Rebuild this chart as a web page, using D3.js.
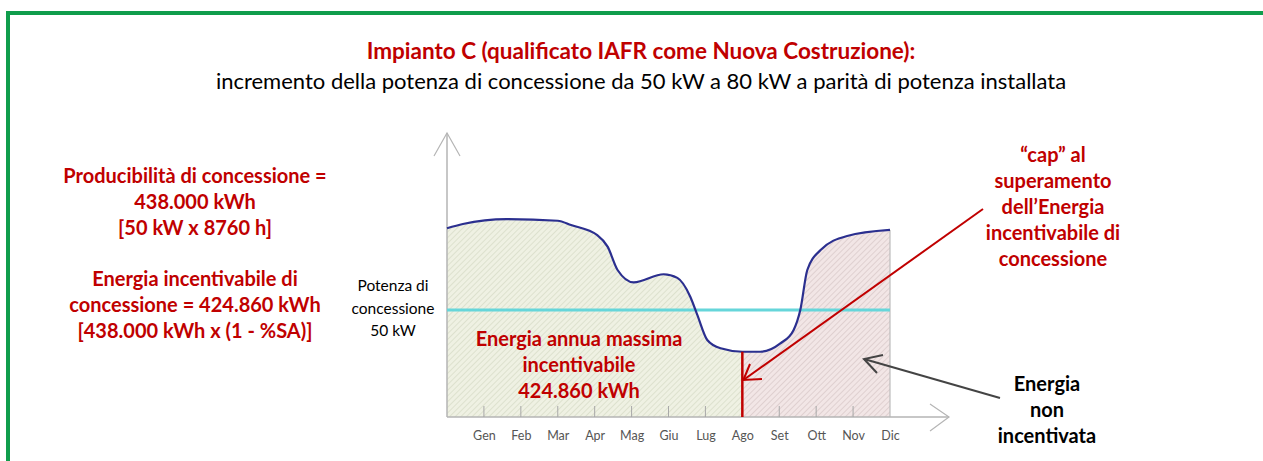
<!DOCTYPE html>
<html>
<head>
<meta charset="utf-8">
<script src="https://cdn.jsdelivr.net/npm/d3@7.9.0/dist/d3.min.js"></script>
<style>
  html, body { margin: 0; padding: 0; background: #fff; }
  svg { display: block; }
  text { font-family: Lato, "Open Sans", sans-serif; }
</style>
</head>
<body>
<svg id="chart" width="1263" height="461"></svg>
<script>
// months shown under the x axis (label sits at the end of each month)
const MONTHS = ['Gen', 'Feb', 'Mar', 'Apr', 'Mag', 'Giu', 'Lug', 'Ago', 'Set', 'Ott', 'Nov', 'Dic'];

// producibility curve: month position (0..12) and kW
const curveMonth = [0, 0.43, 1.62, 3.0, 3.36, 4.07, 4.35, 4.62, 5.06, 5.87, 6.24, 6.59, 6.78, 7.05, 7.41, 8.0, 8.49, 9.03, 9.39, 9.57, 9.76, 10.12, 10.84, 12];
const curveKw = [88.2, 90.2, 92.5, 91.7, 89.7, 85.0, 79.6, 68.7, 62.9, 66.7, 65.0, 56.2, 47.7, 36.0, 32.1, 30.5, 30.5, 34.4, 40.7, 50.0, 68.7, 78.0, 84.6, 87.4];

const CONCESSION_KW = 50;
const CAP_MONTH = 8; // energy cap reached at Ago

const titleLine = 'Impianto C (qualificato IAFR come Nuova Costruzione):';
const subtitleLine = 'incremento della potenza di concessione da 50 kW a 80 kW a parità di potenza installata';
const leftNotes = [
  'Producibilità di concessione =', '438.000 kWh', '[50 kW x 8760 h]',
  'Energia incentivabile di', 'concessione = 424.860 kWh', '[438.000 kWh  x (1 - %SA)]'
];
const concessionLabel = ['Potenza di', 'concessione', '50 kW'];
const areaLabel = ['Energia annua massima', 'incentivabile', '424.860 kWh'];
const capLabel = ['“cap” al', 'superamento', 'dell’Energia', 'incentivabile di', 'concessione'];
const notIncLabel = ['Energia', 'non', 'incentivata'];

const RED = '#c00000';

const svg = d3.select('#chart');
const x = d3.scaleLinear().domain([0, 12]).range([447, 890]);
const y = d3.scaleLinear().domain([0, 50]).range([417, 310]);

const points = curveMonth.map((m, i) => ({ m, kw: curveKw[i] }));

// green frame
svg.append('rect')
  .attr('x', 8).attr('y', 13)
  .attr('width', 1300).attr('height', 500)
  .attr('fill', 'none')
  .attr('stroke', '#0f9d4c')
  .attr('stroke-width', 4);

// hatch patterns
const defs = svg.append('defs');
function hatch(id, bg, line) {
  const p = defs.append('pattern')
    .attr('id', id)
    .attr('patternUnits', 'userSpaceOnUse')
    .attr('width', 4).attr('height', 4)
    .attr('patternTransform', 'rotate(45)');
  p.append('rect').attr('width', 4).attr('height', 4).attr('fill', bg);
  p.append('line').attr('x1', 0).attr('y1', 0).attr('x2', 0).attr('y2', 4)
    .attr('stroke', line).attr('stroke-width', 1.2);
}
hatch('hatch-green', '#eff1e3', '#d2d7c0');
hatch('hatch-pink', '#f2e6e6', '#d3c2c2');

const area = d3.area()
  .x((d) => x(d.m))
  .y0(y(0))
  .y1((d) => y(d.kw))
  .curve(d3.curveMonotoneX);

const clipLeft = defs.append('clipPath').attr('id', 'clip-left');
clipLeft.append('rect').attr('x', x(0)).attr('y', 0).attr('width', x(CAP_MONTH) - x(0)).attr('height', 461);
const clipRight = defs.append('clipPath').attr('id', 'clip-right');
clipRight.append('rect').attr('x', x(CAP_MONTH)).attr('y', 0).attr('width', x(12) - x(CAP_MONTH)).attr('height', 461);

svg.append('path').datum(points)
  .attr('d', area).attr('fill', 'url(#hatch-green)')
  .attr('clip-path', 'url(#clip-left)');
svg.append('path').datum(points)
  .attr('d', area).attr('fill', 'url(#hatch-pink)')
  .attr('clip-path', 'url(#clip-right)');

// right border of the area
svg.append('line')
  .attr('x1', x(12)).attr('x2', x(12))
  .attr('y1', y(curveKw[curveKw.length - 1])).attr('y2', y(0))
  .attr('stroke', '#bdbdbd').attr('stroke-width', 1.2);

// axes
const axisColor = '#b5b5b5';
svg.append('line').attr('x1', x(0)).attr('x2', x(0)).attr('y1', y(0)).attr('y2', 133)
  .attr('stroke', axisColor).attr('stroke-width', 1.5);
svg.append('path').attr('d', `M434,156L${x(0)},133L460,156`)
  .attr('fill', 'none').attr('stroke', axisColor).attr('stroke-width', 1.2);
svg.append('line').attr('x1', x(0)).attr('x2', 949).attr('y1', y(0)).attr('y2', y(0))
  .attr('stroke', axisColor).attr('stroke-width', 1.5);
svg.append('path').attr('d', `M930,404L949,${y(0)}L930,431`)
  .attr('fill', 'none').attr('stroke', axisColor).attr('stroke-width', 1.2);

const xAxis = d3.axisBottom(x)
  .tickValues(d3.range(1, 13))
  .tickSize(0)
  .tickPadding(14)
  .tickFormat((d) => MONTHS[d - 1]);
const gx = svg.append('g').attr('transform', `translate(0,${y(0)})`).call(xAxis);
gx.select('.domain').remove();
gx.selectAll('text')
  .attr('font-family', 'Arial, "Liberation Sans", sans-serif')
  .attr('font-size', 12.5)
  .attr('fill', '#555');
svg.append('g').selectAll('line')
  .data(d3.range(1, 12))
  .join('line')
  .attr('x1', (d) => x(d)).attr('x2', (d) => x(d))
  .attr('y1', y(0)).attr('y2', y(0) - 11)
  .attr('stroke', '#a8a8a8').attr('stroke-width', 1);

// concession line
svg.append('line')
  .attr('x1', x(0)).attr('x2', x(12))
  .attr('y1', y(CONCESSION_KW)).attr('y2', y(CONCESSION_KW))
  .attr('stroke', '#66d6da').attr('stroke-width', 3);

// producibility curve
const line = d3.line()
  .x((d) => x(d.m))
  .y((d) => y(d.kw))
  .curve(d3.curveMonotoneX);
svg.append('path').datum(points)
  .attr('d', line)
  .attr('fill', 'none')
  .attr('stroke', '#2b2f8f')
  .attr('stroke-width', 2.2);

// cap line at Ago
svg.append('line')
  .attr('x1', x(CAP_MONTH)).attr('x2', x(CAP_MONTH))
  .attr('y1', y(30.5)).attr('y2', y(0))
  .attr('stroke', RED).attr('stroke-width', 2.5);

// red arrow from the cap note
const capTip = [x(CAP_MONTH) + 1, 380];
svg.append('line')
  .attr('x1', 983).attr('y1', 209)
  .attr('x2', capTip[0]).attr('y2', capTip[1])
  .attr('stroke', RED).attr('stroke-width', 2);
svg.append('path')
  .attr('d', `M750,364L${capTip[0]},${capTip[1]}L762,379`)
  .attr('fill', 'none').attr('stroke', RED).attr('stroke-width', 2);

// dark arrow from "Energia non incentivata"
svg.append('line')
  .attr('x1', 1000).attr('y1', 398).attr('x2', 864).attr('y2', 359)
  .attr('stroke', '#444').attr('stroke-width', 2);
svg.append('path')
  .attr('d', 'M883,355L864,359L877,373')
  .attr('fill', 'none').attr('stroke', '#444').attr('stroke-width', 2);

// text blocks
function block(lines, cx, firstY, step, opts) {
  svg.append('g').selectAll('text')
    .data(lines)
    .join('text')
    .attr('x', cx)
    .attr('y', (d, i) => firstY + i * step)
    .attr('text-anchor', 'middle')
    .attr('dominant-baseline', 'central')
    .attr('font-size', opts.size)
    .attr('font-weight', opts.weight || 'normal')
    .attr('fill', opts.color || '#000')
    .text((d) => d);
}

block([titleLine], 641, 50, 0, { size: 22.5, weight: 'bold', color: RED });
block([subtitleLine], 641, 80, 0, { size: 22 });
block(leftNotes.slice(0, 3), 195, 175, 26, { size: 20, weight: 'bold', color: RED });
block(leftNotes.slice(3), 195, 278, 26, { size: 20, weight: 'bold', color: RED });
block(concessionLabel, 393, 285, 22.5, { size: 15.5 });
block(areaLabel, 579, 338, 26, { size: 20, weight: 'bold', color: RED });
block(capLabel, 1053, 154, 26, { size: 20, weight: 'bold', color: RED });
block(notIncLabel, 1047, 383, 26, { size: 20, weight: 'bold' });
</script>
</body>
</html>
